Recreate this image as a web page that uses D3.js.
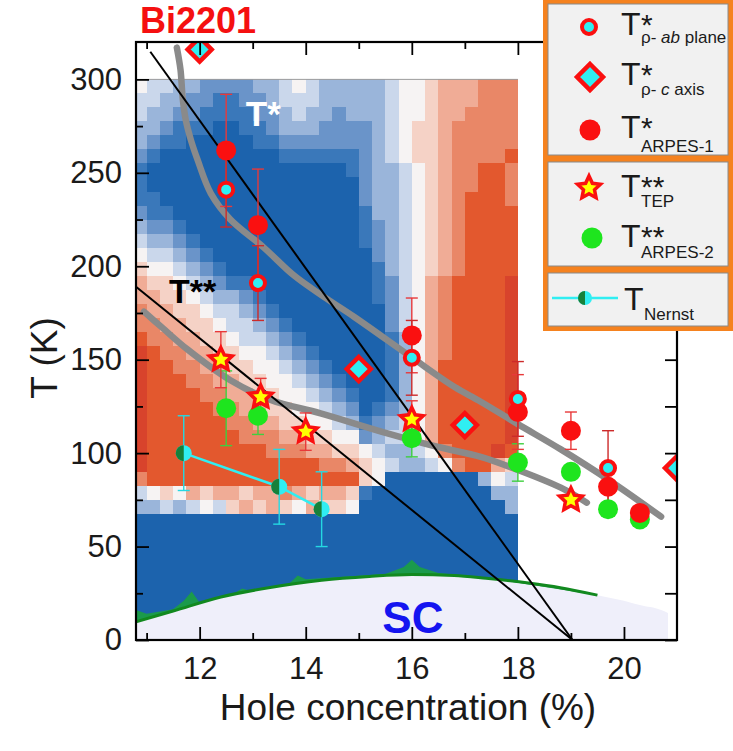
<!DOCTYPE html>
<html>
<head>
<meta charset="utf-8">
<script src="https://cdn.jsdelivr.net/npm/d3@7"></script>
<style>
  body { margin: 0; background: #fff; }
  svg { font-family: "Liberation Sans", Arial, sans-serif; }
</style>
</head>
<body>
<div id="plot"></div>
<script>
// sizes

  const w = 733;
  const h = 751;
  const margin = {top: 42, right: 56, bottom: 111, left: 136};
  const innerWidth = w - margin.left - margin.right;
  const innerHeight = h - margin.top - margin.bottom;

// data

  // T* from in-plane resistivity
  const rhoAbX = [12.5, 13.1, 16.0, 18.0, 19.7];
  const rhoAbT = [241, 191, 151, 129, 92];
  const rhoAbErr = [20, 20, 20, 20, 20];

  // T* from c-axis resistivity
  const rhoCX = [12.0, 15.0, 17.0, 21.0];
  const rhoCT = [316, 145, 115, 92];

  // T* ARPES-1
  const arpes1X = [12.5, 13.1, 16.0, 18.0, 19.0, 19.7, 20.3];
  const arpes1T = [262, 222, 163, 122, 112, 82, 68];
  const arpes1Err = [30, 30, 20, 20, 10, 10, 0];

  // T** TEP
  const tepX = [12.4, 13.15, 14.0, 16.0, 19.0];
  const tepT = [150, 130, 111.5, 118, 75];
  const tepErr = [15, 10, 10, 10, 0];

  // T** ARPES-2
  const arpes2X = [12.5, 13.1, 16.0, 18.0, 19.0, 19.7, 20.3];
  const arpes2T = [124, 120, 108, 95, 90, 70, 64.5];
  const arpes2Err = [20, 10, 10, 10, 0, 0, 0];

  // Nernst
  const nernstX = [11.7, 13.5, 14.3];
  const nernstT = [100, 82, 70];
  const nernstErr = [20, 20, 20];

  // grey guide curves
  const guideStarX = [11.57, 11.64, 11.68, 11.74, 11.83, 11.96, 12.21, 12.58, 13.21, 13.78, 14.35, 14.91, 15.98, 16.8, 17.3, 18.0, 18.81, 19.72, 20.7];
  const guideStarT = [317, 305, 290, 278, 268, 257, 239, 225, 210, 195, 183.5, 173, 151.6, 135.5, 127.5, 115.5, 102, 85.5, 66];
  const guide2X = [10.95, 11.3, 11.77, 12.58, 13.34, 14.28, 15.54, 16.48, 17.3, 18.0, 18.81, 19.3];
  const guide2T = [175.7, 167, 155.5, 139, 128.4, 121.3, 110.6, 103.4, 98, 91, 81.5, 73.5];

  // black straight lines
  const lineStarX = [11.07, 19.03];
  const lineStarT = [314.8, 0];
  const line2X = [10.8, 19.03];
  const line2T = [189, 0];

  // superconducting dome
  const tcX = [10.8, 11.5, 12.4, 13.3, 14.3, 15.2, 16.0, 16.8, 17.4, 18.2, 18.8, 19.5];
  const tcT = [9.8, 15.5, 23, 28, 32, 34, 35, 34.5, 33, 30.5, 28, 24];
  const domeX = [10.8, 11.5, 12.4, 13.3, 14.3, 15.2, 16.0, 16.8, 17.4, 18.2, 18.8, 19.5, 20.0, 20.4, 20.6, 20.83];
  const domeT = [9.8, 15.5, 23, 28, 32, 34, 35, 34.5, 33, 30.5, 28, 24, 21, 18, 17, 14.5];
  const greenTopX = [10.8, 11.0, 11.5, 11.7, 11.85, 12.0, 12.6, 12.8, 13.0, 13.7, 13.85, 14.0, 15.5, 15.85, 16.0, 16.15, 16.5, 17.4];
  const greenTopT = [16, 14, 16.5, 21, 26, 20, 24, 27.5, 26, 30.5, 34.5, 32.5, 35.3, 39, 43, 39, 35.8, 33.3];

  // colour map, 0 = deep blue ... 5 = white ... A = deep red
  const heatColStart = 10.75;
  const heatColWidth = 0.25;
  const heatRowTop = 300;
  const heatRowHeight = 7.5;
  const heatRows = [
    "54433222233454333334556777888",
    "44332211223444333334556777888",
    "43322111122343323334556778888",
    "33211100112333222234566788888",
    "32110000011222222234566788888",
    "21000000000111111234566788889",
    "10000000000000001233456788998",
    "10000000000000000233456788998",
    "11000000000000000233456789998",
    "21100000000000000133456789999",
    "32210000000000000123456789999",
    "43321000000000000123456789999",
    "54432100000000000023456789999",
    "65543210000000000013456789999",
    "7665432110000000001245789999A",
    "7766543321000000001245789999A",
    "8776654432100000000245789999A",
    "8877665443210000000245789999A",
    "9887766544321000000135789999A",
    "A988776655432100000135789999A",
    "A998877665543210000135799999A",
    "A999887766554321000135799999A",
    "A999988776655432100135799999A",
    "A999998877665543201235799999A",
    "A999999887766554312345799999A",
    "A999999988877665523445799999A",
    "A99999999988877665433458999A9",
    "A9999999999999887654334589976",
    "89999999999999999650000000354",
    "45657677677876776100000000033",
    "33434546767657665000000000003",
    "00000000000000000000000000000",
    "00000000000000000000000000000",
    "00000000000000000000000000000",
    "00000000000000000000000000000",
    "00000000000000000000000000000",
    "00000000000000000000000000000",
    "00000000000000000000000000000",
    "00000000000000000000000000000",
    "00000000000000000000000000000"
  ];
  const heatColors = {
    "0": "#1c63ad", "1": "#3a78ba", "2": "#6a94c9", "3": "#9ab5da", "4": "#cad7eb",
    "5": "#f6f3f3", "6": "#f5d2c6", "7": "#f0ac96", "8": "#e98767", "9": "#e3582e", "A": "#d8432c"
  };

  const xMajor = [12, 14, 16, 18, 20];
  const xMinor = [11, 13, 15, 17, 19];
  const yMajor = [0, 50, 100, 150, 200, 250, 300];
  const yMinor = [25, 75, 125, 175, 225, 275];

// colours

  const red = "#fa1010";
  const cyan = "#30eef2";
  const lime = "#1ee51e";

// scales

  const xScale = d3.scaleLinear()
      .domain([10.8, 21])
      .range([0, innerWidth]);

  const yScale = d3.scaleLinear()
      .domain([0, 320])
      .range([innerHeight, 0]);

// add svg

  const svg = d3.select("#plot")
    .append("svg")
      .attr("width", w)
      .attr("height", h);

  svg.append("defs").append("clipPath")
      .attr("id", "clip")
    .append("rect")
      .attr("width", innerWidth)
      .attr("height", innerHeight);

  const g = svg.append("g")
      .attr("transform", `translate (${margin.left}, ${margin.top})`);

  const plot = g.append("g")
      .attr("clip-path", "url(#clip)");

// heat map

  const cells = [];
  heatRows.forEach((row, r) => {
    row.split("").forEach((v, c) => {
      cells.push({x0: heatColStart + c * heatColWidth, t1: heatRowTop - r * heatRowHeight, v: v});
    });
  });

  plot.append("g")
      .attr("shape-rendering", "crispEdges")
    .selectAll("rect")
    .data(cells)
    .enter().append("rect")
      .attr("x", d => xScale(d.x0))
      .attr("y", d => yScale(d.t1))
      .attr("width", xScale(heatColWidth) - xScale(0) + 0.6)
      .attr("height", yScale(0) - yScale(heatRowHeight) + 0.6)
      .attr("fill", d => heatColors[d.v]);

  plot.append("line")
      .attr("x1", xScale(10.8))
      .attr("x2", xScale(heatColStart + heatRows[0].length * heatColWidth))
      .attr("y1", yScale(heatRowTop))
      .attr("y2", yScale(heatRowTop))
      .attr("stroke", "#9c9c9c")
      .attr("stroke-width", 1);

// SC dome

  const dome = domeX.map((x, i) => [x, domeT[i]]);
  plot.append("path")
      .datum(dome)
      .attr("d", d3.area()
        .x(d => xScale(d[0]))
        .y0(yScale(0))
        .y1(d => yScale(d[1]))
        .curve(d3.curveMonotoneX))
      .attr("fill", "#efeffa");

  const tc = tcX.map((x, i) => [x, tcT[i]]);
  const greenTop = greenTopX.map((x, i) => [x, greenTopT[i]]);
  plot.append("path")
      .datum(greenTop.concat(tc.slice().reverse()))
      .attr("d", d3.line().x(d => xScale(d[0])).y(d => yScale(d[1])))
      .attr("fill", "#1b9a4c");

  plot.append("path")
      .datum(tc)
      .attr("d", d3.line().x(d => xScale(d[0])).y(d => yScale(d[1])).curve(d3.curveMonotoneX))
      .attr("fill", "none")
      .attr("stroke", "#12891f")
      .attr("stroke-width", 3);

// guide curves and lines

  const lineGen = d3.line()
      .x(d => xScale(d[0]))
      .y(d => yScale(d[1]));

  [[guideStarX, guideStarT], [guide2X, guide2T]].forEach(([xs, ts]) => {
    plot.append("path")
        .datum(xs.map((x, i) => [x, ts[i]]))
        .attr("d", lineGen.curve(d3.curveCatmullRom))
        .attr("fill", "none")
        .attr("stroke", "#8a8a8a")
        .attr("stroke-width", 6.5)
        .attr("stroke-linecap", "round");
  });

  [[lineStarX, lineStarT], [line2X, line2T]].forEach(([xs, ts]) => {
    plot.append("path")
        .datum(xs.map((x, i) => [x, ts[i]]))
        .attr("d", lineGen.curve(d3.curveLinear))
        .attr("fill", "none")
        .attr("stroke", "#000")
        .attr("stroke-width", 2);
  });

// Nernst line

  plot.append("path")
      .datum(nernstX.map((x, i) => [x, nernstT[i]]))
      .attr("d", lineGen.curve(d3.curveLinear))
      .attr("fill", "none")
      .attr("stroke", cyan)
      .attr("stroke-width", 2.5);

// error bars

  function errorBars(xs, ts, errs, color) {
    const data = xs.map((x, i) => ({x: x, t: ts[i], e: errs[i]})).filter(d => d.e > 0);
    const eb = plot.append("g")
        .attr("stroke", color)
        .attr("stroke-width", 1.4)
      .selectAll("g")
      .data(data)
      .enter().append("g");
    eb.append("line")
        .attr("x1", d => xScale(d.x)).attr("x2", d => xScale(d.x))
        .attr("y1", d => yScale(d.t - d.e)).attr("y2", d => yScale(d.t + d.e));
    [-1, 1].forEach(s => {
      eb.append("line")
          .attr("x1", d => xScale(d.x) - 6).attr("x2", d => xScale(d.x) + 6)
          .attr("y1", d => yScale(d.t + s * d.e)).attr("y2", d => yScale(d.t + s * d.e));
    });
  }

  errorBars(nernstX, nernstT, nernstErr, "#25d8e2");
  errorBars(arpes2X, arpes2T, arpes2Err, "#3fcf3f");
  errorBars(arpes1X, arpes1T, arpes1Err, "#e8393a");
  errorBars(rhoAbX, rhoAbT, rhoAbErr, "#cc2a2a");
  errorBars(tepX, tepT, tepErr, "#e8393a");

// marker shapes

  function starPath(R, r) {
    const p = [];
    for (let i = 0; i < 10; i++) {
      const a = -Math.PI / 2 + i * Math.PI / 5;
      const rad = i % 2 ? r : R;
      p.push([rad * Math.cos(a), rad * Math.sin(a)]);
    }
    return "M" + p.join("L") + "Z";
  }
  const diamondPath = s => `M0,${-s}L${s},0L0,${s}L${-s},0Z`;

  function drawMarker(sel, type) {
    if (type === "rhoAb") {
      sel.append("circle").attr("r", 7).attr("fill", cyan).attr("stroke", red).attr("stroke-width", 4);
    } else if (type === "rhoC") {
      sel.append("path").attr("d", diamondPath(12)).attr("fill", cyan).attr("stroke", red).attr("stroke-width", 4.5);
    } else if (type === "arpes1") {
      sel.append("circle").attr("r", 10).attr("fill", red);
    } else if (type === "arpes2") {
      sel.append("circle").attr("r", 10).attr("fill", lime);
    } else if (type === "tep") {
      sel.append("path").attr("d", starPath(12, 5.8)).attr("fill", "#ffff00")
          .attr("stroke", red).attr("stroke-width", 3.5).attr("stroke-linejoin", "miter");
    } else if (type === "nernst") {
      sel.append("circle").attr("r", 8).attr("fill", cyan);
      sel.append("path").attr("d", "M0,-8A8,8 0 0 0 0,8Z").attr("fill", "#17803a");
    }
  }

  function markers(xs, ts, type) {
    const m = plot.append("g")
      .selectAll("g")
      .data(xs.map((x, i) => ({x: x, t: ts[i]})))
      .enter().append("g")
        .attr("transform", d => `translate (${xScale(d.x)}, ${yScale(d.t)})`);
    drawMarker(m, type);
  }

  markers(arpes2X, arpes2T, "arpes2");
  markers(nernstX, nernstT, "nernst");
  markers(arpes1X, arpes1T, "arpes1");
  markers(tepX, tepT, "tep");
  markers(rhoAbX, rhoAbT, "rhoAb");
  markers(rhoCX, rhoCT, "rhoC");

// labels inside the plot

  const plotLabels = [
    {text: "T*", x: 12.87, t: 275, color: "#fff", size: 35, anchor: "start"},
    {text: "T**", x: 11.42, t: 180.3, color: "#000", size: 34, anchor: "start"},
    {text: "SC", x: 16.02, t: 3.7, color: "#1414f0", size: 44, anchor: "middle"}
  ];

  g.selectAll(".plotLabel")
    .data(plotLabels)
    .enter().append("text")
      .attr("x", d => xScale(d.x))
      .attr("y", d => yScale(d.t))
      .attr("fill", d => d.color)
      .attr("font-size", d => d.size)
      .attr("font-weight", "bold")
      .attr("text-anchor", d => d.anchor)
      .text(d => d.text);

// add axes

  function styleAxis(sel) {
    sel.select(".domain").remove();
    sel.attr("font-size", 31).attr("font-family", "Liberation Sans, Arial, sans-serif");
    sel.selectAll("line").attr("stroke", "#000").attr("stroke-width", 1.8);
    sel.selectAll("text").attr("fill", "#1a1a1a");
    sel.selectAll("text").filter(function() { return this.textContent === ""; }).remove();
  }

  g.append("g")
      .attr("transform", `translate (0, ${innerHeight})`)
      .call(d3.axisBottom().scale(xScale).tickValues(xMajor).tickSizeInner(-13).tickSizeOuter(0).tickPadding(17))
      .call(styleAxis);
  g.append("g")
      .attr("transform", `translate (0, ${innerHeight})`)
      .call(d3.axisBottom().scale(xScale).tickValues(xMinor).tickSizeInner(-7).tickSizeOuter(0).tickFormat(""))
      .call(styleAxis);
  g.append("g")
      .call(d3.axisTop().scale(xScale).tickValues(xMajor).tickSizeInner(-13).tickSizeOuter(0).tickFormat(""))
      .call(styleAxis);
  g.append("g")
      .call(d3.axisTop().scale(xScale).tickValues(xMinor).tickSizeInner(-7).tickSizeOuter(0).tickFormat(""))
      .call(styleAxis);

  g.append("g")
      .call(d3.axisLeft().scale(yScale).tickValues(yMajor).tickSizeInner(-13).tickSizeOuter(0).tickPadding(14))
      .call(styleAxis);
  g.append("g")
      .call(d3.axisLeft().scale(yScale).tickValues(yMinor).tickSizeInner(-7).tickSizeOuter(0).tickFormat(""))
      .call(styleAxis);
  g.append("g")
      .attr("transform", `translate (${innerWidth}, 0)`)
      .call(d3.axisRight().scale(yScale).tickValues(yMajor.concat(yMinor)).tickSizeInner(-12).tickSizeOuter(0).tickFormat(""))
      .call(styleAxis);

  g.append("rect")
      .attr("width", innerWidth)
      .attr("height", innerHeight)
      .attr("fill", "none")
      .attr("stroke", "#000")
      .attr("stroke-width", 2.2);

// axis titles

  svg.append("text")
      .attr("x", 408)
      .attr("y", 720)
      .attr("text-anchor", "middle")
      .attr("font-size", 37)
      .attr("fill", "#1a1a1a")
      .text("Hole concentration (%)");

  svg.append("text")
      .attr("transform", "translate (57, 358) rotate(-90)")
      .attr("text-anchor", "middle")
      .attr("font-size", 37)
      .attr("fill", "#1a1a1a")
      .text("T (K)");

  svg.append("text")
      .attr("x", 140)
      .attr("y", 33)
      .attr("font-size", 36)
      .attr("font-weight", "bold")
      .attr("fill", "#f51010")
      .text("Bi2201");

// legend

  const legend = svg.append("g");

  legend.append("rect")
      .attr("x", 543).attr("y", 0)
      .attr("width", 190).attr("height", 331)
      .attr("fill", "#f5821f");

  [[4, 155], [162, 266], [273, 326]].forEach(([y0, y1]) => {
    legend.append("rect")
        .attr("x", 548).attr("y", y0)
        .attr("width", 180).attr("height", y1 - y0)
        .attr("fill", "#f1f1f1")
        .attr("stroke", "#8a8a8a")
        .attr("stroke-width", 1);
  });

  const legendItems = [
    {type: "rhoAb", mx: 589, my: 27, tY: 35, sup: "*", sub: [["ρ- ", "normal"], ["ab", "italic"], [" plane", "normal"]], subY: 43},
    {type: "rhoC", mx: 590, my: 77, tY: 85, sup: "*", sub: [["ρ- ", "normal"], ["c", "italic"], [" axis", "normal"]], subY: 95},
    {type: "arpes1", mx: 590, my: 130, tY: 138, sup: "*", sub: [["ARPES-1", "normal"]], subY: 152},
    {type: "tep", mx: 589, my: 188, tY: 197, sup: "**", sub: [["TEP", "normal"]], subY: 207},
    {type: "arpes2", mx: 592, my: 238, tY: 247, sup: "**", sub: [["ARPES-2", "normal"]], subY: 258},
    {type: "nernst", mx: 585, my: 298, tY: 310, sup: "", sub: [["Nernst", "normal"]], subY: 320}
  ];

  legendItems.forEach(d => {
    const tx = d.type === "nernst" ? 624 : 621;
    if (d.type === "nernst") {
      legend.append("line")
          .attr("x1", 552).attr("x2", 618)
          .attr("y1", d.my).attr("y2", d.my)
          .attr("stroke", cyan).attr("stroke-width", 2.5);
    }
    const m = legend.append("g").attr("transform", `translate (${d.mx}, ${d.my})`);
    drawMarker(m, d.type);
    if (d.type === "rhoC") m.select("path").attr("d", diamondPath(13));
    if (d.type === "arpes1" || d.type === "arpes2") m.select("circle").attr("r", 10.5);
    if (d.type === "nernst") {
      m.select("circle").attr("r", 7);
      m.select("path").attr("d", "M0,-7A7,7 0 0 0 0,7Z");
    }

    legend.append("text")
        .attr("x", tx).attr("y", d.tY)
        .attr("font-size", 32)
        .attr("fill", "#1a1a1a")
        .text("T");
    if (d.sup) {
      legend.append("text")
          .attr("x", tx + 20).attr("y", d.tY)
          .attr("font-size", 30)
          .attr("fill", "#1a1a1a")
          .text(d.sup);
    }
    const st = legend.append("text")
        .attr("x", tx + 20).attr("y", d.subY)
        .attr("font-size", 17)
        .attr("fill", "#1a1a1a");
    d.sub.forEach(([s, style]) => {
      st.append("tspan").attr("font-style", style).text(s);
    });
  });
</script>
</body>
</html>
